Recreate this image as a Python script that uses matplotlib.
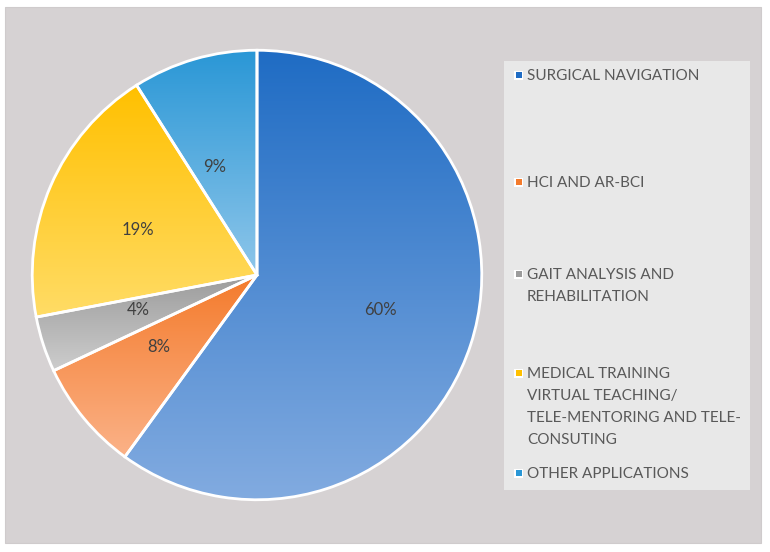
import matplotlib
matplotlib.use("Agg")
import matplotlib.pyplot as plt
import numpy as np
from matplotlib.colors import LinearSegmentedColormap
from matplotlib.patches import Rectangle

categories = ["SURGICAL NAVIGATION", "HCI AND AR-BCI", "GAIT ANALYSIS AND\nREHABILITATION",
              "MEDICAL TRAINING\nVIRTUAL TEACHING/\nTELE-MENTORING AND TELE-\nCONSUTING",
              "OTHER APPLICATIONS"]
values = [60, 8, 4, 19, 9]
top_colors = ["#1f6cc4", "#f47b2c", "#9c9c9c", "#ffc000", "#2a97d6"]
bottom_colors = ["#82abe0", "#fbb288", "#cdcdcd", "#ffdc66", "#8ec6ea"]
legend_y = [75, 182, 274, 373, 473]  # pixel rows (from top) of first line

W, H = 770, 552
fig = plt.figure(figsize=(W / 100, H / 100), dpi=100)
fig.patch.set_facecolor("white")

def px(x0, y0, x1, y1):
    return (x0 / W, 1 - y1 / H, (x1 - x0) / W, (y1 - y0) / H)

# panel background
l, b, w, h = px(5, 7, 761, 543)
fig.patches.append(Rectangle((l, b), w, h, transform=fig.transFigure,
                             facecolor="#d6d2d3", edgecolor="#cfcbcc", lw=0.8, zorder=-2))
# legend box
l, b, w, h = px(504, 61, 750, 490)
fig.patches.append(Rectangle((l, b), w, h, transform=fig.transFigure,
                             facecolor="#e8e8e8", edgecolor="none", zorder=-1))

cx, cy, r = 257, 275, 227
ax = fig.add_axes(px(cx - r, cy - r, cx + r, cy + r))
ax.set_facecolor("none")
ax.axis("off")

wedges, texts = ax.pie(values, startangle=90, counterclock=False, radius=1,
                       labels=[f"{v}%" for v in values], labeldistance=0.5,
                       wedgeprops=dict(facecolor="none", edgecolor="white", linewidth=2),
                       textprops=dict(fontsize=12, color="#404040", family="Lato"))
for wdg, tc, bc in zip(wedges, top_colors, bottom_colors):
    path = wdg.get_path().transformed(wdg.get_patch_transform())
    ext = path.get_extents()
    cmap = LinearSegmentedColormap.from_list("g", [tc, bc])
    grad = np.linspace(0, 1, 256).reshape(-1, 1)
    im = ax.imshow(grad, cmap=cmap, extent=[ext.x0, ext.x1, ext.y0, ext.y1],
                   origin="upper", aspect="auto", zorder=1, interpolation="bilinear")
    im.set_clip_path(wdg)
    wdg.set_zorder(2)
for t in texts:
    t.set_zorder(3)
ax.set_xlim(-1.01, 1.01)
ax.set_ylim(-1.01, 1.01)

# legend
for lab, y, tc, bc in zip(categories, legend_y, top_colors, bottom_colors):
    fig.patches.append(Rectangle(((514) / W, 1 - (y + 4.5) / H), 9 / W, 9 / H,
                                 transform=fig.transFigure, facecolor="white",
                                 edgecolor="none", zorder=1))
    fig.patches.append(Rectangle(((515.5) / W, 1 - (y + 3) / H), 6 / W, 6 / H,
                                 transform=fig.transFigure, facecolor=tc,
                                 edgecolor="none", zorder=2))
    fig.text(527 / W, 1 - (y - 6) / H, lab, ha="left", va="top", fontsize=11,
             color="#595959", family="Lato", linespacing=1.72)

fig.savefig("out.png", dpi=100, facecolor="white")
